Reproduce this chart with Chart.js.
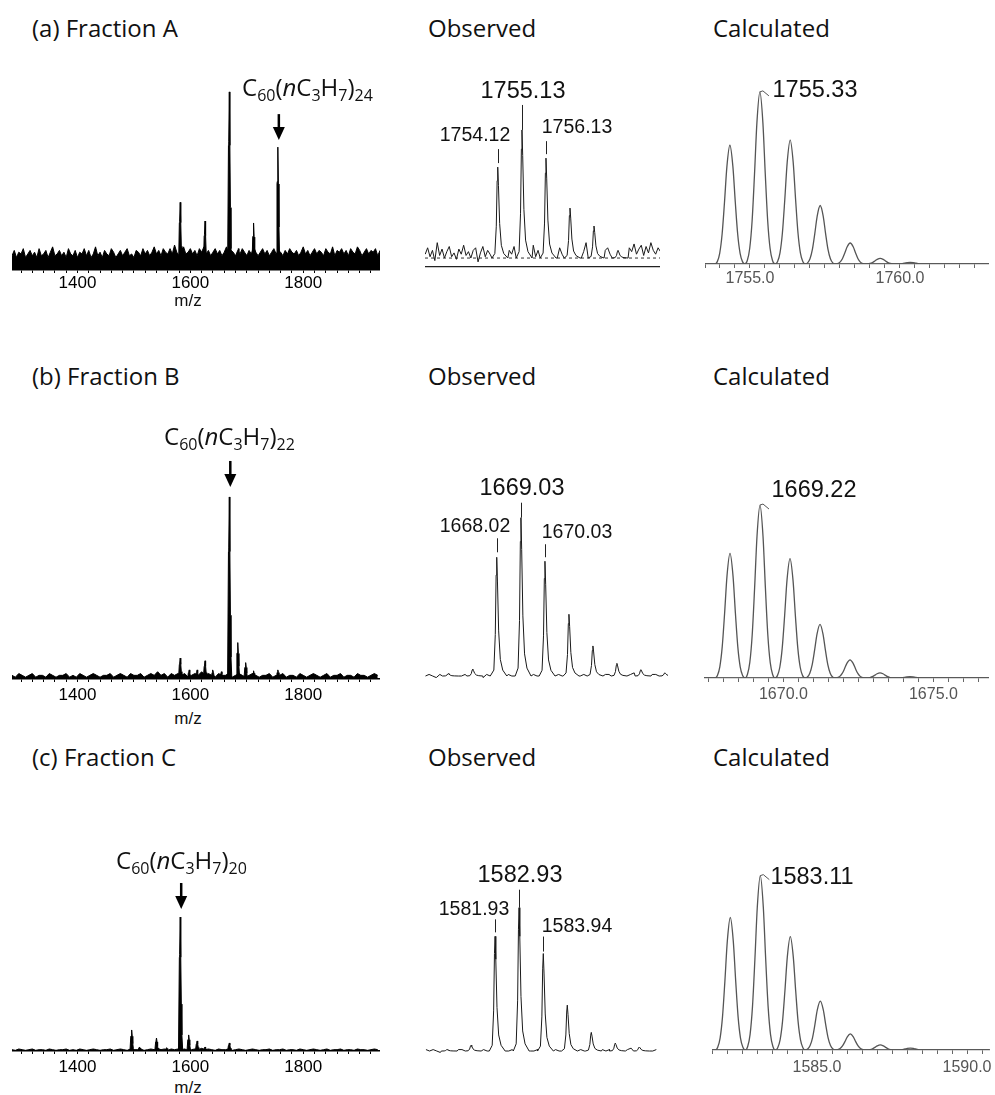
<!DOCTYPE html>
<html lang="en">
<head>
<meta charset="UTF-8">
<script src="https://cdn.jsdelivr.net/npm/chart.js"></script>
<title>C60 propyl adducts - MS</title>
<style>
  body { margin: 0; background: #fff; }
  #page { position: relative; width: 995px; height: 1095px; overflow: hidden; }
  canvas { position: absolute; }
  .t { position: absolute; line-height: 1; white-space: nowrap; color: #111; }
  .head { font-family: "Open Sans", sans-serif; font-size: 24px; transform: translateY(-50%); }
  .num { font-family: "Liberation Sans", Arial, sans-serif; transform: translate(-50%, -50%); }
  .small { font-size: 19.5px; }
  .big { font-size: 23.5px; }
  .mz { font-family: "Liberation Sans", Arial, sans-serif; font-size: 17px; transform: translate(-50%, -50%); }
  .formula { font-family: "Open Sans", sans-serif; font-size: 24px; transform: translateY(-50%); }
  .formula sub { font-size: 16px; position: relative; top: 5px; vertical-align: baseline; line-height: 0; }
</style>
</head>
<body>
<div id="page">
  <div class="t head" style="left:32px; top:28px;">(a) Fraction A</div>
  <div class="t head" style="left:428px; top:28px;">Observed</div>
  <div class="t head" style="left:713px; top:28px;">Calculated</div>
  <div class="t head" style="left:32px; top:376px;">(b) Fraction B</div>
  <div class="t head" style="left:428px; top:376px;">Observed</div>
  <div class="t head" style="left:713px; top:376px;">Calculated</div>
  <div class="t head" style="left:32px; top:757px;">(c) Fraction C</div>
  <div class="t head" style="left:428px; top:757px;">Observed</div>
  <div class="t head" style="left:713px; top:757px;">Calculated</div>

  <canvas id="ovA" width="368" height="211" style="left:12px; top:83px;"></canvas>
  <canvas id="obsA" width="235" height="169" style="left:425px; top:100px;"></canvas>
  <canvas id="calcA" width="284" height="205" style="left:705px; top:85px;"></canvas>
  <canvas id="ovB" width="368" height="253" style="left:12px; top:450px;"></canvas>
  <canvas id="obsB" width="243" height="190" style="left:425px; top:490px;"></canvas>
  <canvas id="calcB" width="285" height="209" style="left:704px; top:495px;"></canvas>
  <canvas id="ovC" width="368" height="205" style="left:12px; top:870px;"></canvas>
  <canvas id="obsC" width="233" height="180" style="left:425px; top:875px;"></canvas>
  <canvas id="calcC" width="283" height="211" style="left:712px; top:865px;"></canvas>

  <div class="t formula" style="left:242px; top:87px;">C<sub>60</sub>(<i>n</i>C<sub>3</sub>H<sub>7</sub>)<sub>24</sub></div>
  <div class="t formula" style="left:164px; top:436px;">C<sub>60</sub>(<i>n</i>C<sub>3</sub>H<sub>7</sub>)<sub>22</sub></div>
  <div class="t formula" style="left:116px; top:860px;">C<sub>60</sub>(<i>n</i>C<sub>3</sub>H<sub>7</sub>)<sub>20</sub></div>

  <div class="t mz" style="left:188px; top:300px;">m/z</div>
  <div class="t mz" style="left:188px; top:718px;">m/z</div>
  <div class="t mz" style="left:188px; top:1087px;">m/z</div>

  <div class="t num big" style="left:523px; top:91px;">1755.13</div>
  <div class="t num small" style="left:475px; top:135px;">1754.12</div>
  <div class="t num small" style="left:577px; top:127px;">1756.13</div>
  <div class="t num big" style="left:815px; top:90px;">1755.33</div>

  <div class="t num big" style="left:522px; top:488px;">1669.03</div>
  <div class="t num small" style="left:475px; top:526px;">1668.02</div>
  <div class="t num small" style="left:577px; top:532px;">1670.03</div>
  <div class="t num big" style="left:814px; top:490px;">1669.22</div>

  <div class="t num big" style="left:520px; top:875px;">1582.93</div>
  <div class="t num small" style="left:474px; top:909px;">1581.93</div>
  <div class="t num small" style="left:577px; top:926px;">1583.94</div>
  <div class="t num big" style="left:812px; top:877px;">1583.11</div>
</div>

<script>
// ---------- data ----------

// overview spectra: x range and principal peaks (relative intensity, main peak = 100)
const ovMin = 1284, ovMax = 1936, ovNoiseStart = 1284;
const ovPeaksA = [1582, 1598, 1626, 1669, 1685, 1698, 1712, 1755];
const ovHeightsA = [38, 9, 27.5, 100, 12, 9, 26.4, 69];
const ovPeaksB = [1582, 1598, 1612, 1626, 1640, 1655, 1669, 1684, 1698, 1712, 1755];
const ovHeightsB = [11.5, 5, 5, 10, 5, 4, 100, 20, 9, 4.5, 5];
const ovPeaksC = [1496, 1510, 1540, 1558, 1582, 1597, 1612, 1626, 1669];
const ovHeightsC = [15.7, 3, 9.7, 2.5, 100, 12, 7.5, 3, 6];

// noise band top of the overview traces
const noiseStepA1 = 4;
const noiseA1 = [8,11,7,10,9,12,7,9,11,8, 10,7,12,8,9,11,7,10,13,8, 9,11,8,10,7,12,9,8,11,7,
  10,9,12,8,11,7,9,13,8,10, 7,11,9,8,12,10,7,9,11,8, 10,12,8,9,7,11,10,8,12,9,
  11,8,10,13,9,11,8,12,10,9, 12,9,14,10,8,11,13,9,10,12, 9,11,8,12,10,13,9,11,8,10,
  12,9,11,8,10,13,9,11,10,8, 11,9,12,10,8,11,9,13,10,8, 10,12,9,11,8,10,12,9,11,10,
  8,11,9,12,10,9,11,8,10,13, 9,11,8,10,12,9,11,10,8,12, 10,9,13,8,11,10,12,9,11,8,
  12,10,9,13,11,8,10,12,9,11, 10,12,8,11];
const noiseStepBC = 6;
const noiseB1 = [2,1,3,2,1,2,3,1,2,2, 1,3,2,1,2,2,3,1,2,1, 3,2,1,2,3,2,1,2,2,3,
  1,2,3,2,1,3,2,2,3,1, 2,3,2,4,2,3,1,3,2,3, 2,3,1,2,3,2,4,2,3,2,
  1,3,2,2,3,1,2,3,2,1, 2,3,2,1,2,2,3,1,2,2, 3,1,2,2,1,3,2,1,2,3,
  2,1,2,3,1,2,2,3,1,2, 2,1,3,2,2,1,2,3,2];
const noiseC1 = [1,0.5,1.5,1,0.5,1,1.5,0.5,1,1, 0.5,1.5,1,0.5,1,1,1.5,0.5,1,0.5,
  1.5,1,0.5,1,1.5,1,0.5,1,1,1.5, 0.5,1,1.5,1,0.5,1.5,1,1,1.5,0.5,
  1,1.5,1,2,1,1.5,0.5,1.5,1,1.5, 1,1.5,0.5,1,1.5,1,2,1,1.5,1,
  0.5,1.5,1,1,1.5,0.5,1,1.5,1,0.5, 1,1.5,1,0.5,1,1,1.5,0.5,1,1,
  1.5,0.5,1,1,0.5,1.5,1,0.5,1,1.5, 1,0.5,1,1.5,0.5,1,1,1.5,0.5,1,
  1,0.5,1.5,1,1,0.5,1,1.5,1];

// cluster profile of one overview peak (m/z offset, fraction of height)
const ovShapeDx = [-3, -1.5, -1, 0, 1, 2, 3, 4.5];
const ovShapeFr = [0, 0.7, 0.72, 1, 0.7, 0.35, 0.12, 0];

// observed isotope patterns
const obsRangeA = [1751.09, 1760.88];
const obsPeaksA = [1754.12, 1755.13, 1756.13, 1757.13, 1758.13, 1759.13];
const obsHeightsA = [71, 100, 78, 39, 25, 6];
const noiseA2Start = 1751.1, noiseA2Step = 0.1;
const noiseA2 = [3,8,1,6,-2,12,2,7,0,5, 9,1,4,-1,7,3,10,2,5,0, 6,8,-3,4,9,1,6,3,11,0,
  5,2,8,4,-2,6,3,9,1,7, 4,0,8,2,5,10,1,6,3,7, -1,4,9,2,6,0,8,3,5,1,
  10,4,7,2,9,0,5,12,3,7, 1,9,4,11,2,6,8,3,12,5, 1,9,4,13,2,8,5,11,3,7,
  10,2,9,4,12,6,3,8,5];

const obsRangeB = [1665.03, 1675.16];
const obsPeaksB = [1666.0, 1667.02, 1668.02, 1669.03, 1670.03, 1671.03, 1672.03, 1673.03, 1674.03, 1675.03];
const obsHeightsB = [1.5, 4.4, 75, 100, 72.5, 39, 19, 8, 4, 2];
const noiseB2Start = 1665.05, noiseB2Step = 0.15;
const noiseB2 = [0,1,0,-1,1,0,1,0,1,-1, 0,1,0,1,1,0,-1,1,0,1, 0,1,0,1,0,1,0,-1,1,0,
  1,0,1,0,1,1,0,1,0,1, 0,1,1,0,1,0,1,0,1,0, 1,1,0,1,0,1,0,1,2,1, 0,1,0,1,1,0,1,0];

const obsRangeC = [1579.01, 1588.72];
const obsPeaksC = [1579.93, 1580.93, 1581.93, 1582.93, 1583.94, 1584.94, 1585.94, 1586.94, 1587.94];
const obsHeightsC = [1, 4, 80, 100, 68, 32, 13, 5.5, 2.8];
const noiseC2Start = 1579.05, noiseC2Step = 0.15;
const noiseC2 = [1,0,1,0,-1,1,0,1,0,1, 1,0,0,1,0,-1,1,0,1,0, 1,0,1,0,1,1,0,-1,1,0,
  0,1,0,1,1,0,1,0,1,0, 1,0,1,1,0,1,0,1,0,1, 0,1,1,0,1,0,1,2,1,0, 1,0,1,0,1];

// observed peak profile
const obsShapeDx = [-0.24, -0.12, -0.06, -0.025, 0, 0.03, 0.08, 0.15, 0.25, 0.42];
const obsShapeFr = [0, 0.05, 0.35, 0.85, 1, 0.8, 0.38, 0.14, 0.05, 0];

// calculated isotope patterns
const calcRangeA = [1753.5, 1762.967];
const calcPeaksA = [1754.33, 1755.33, 1756.34, 1757.34, 1758.34, 1759.34, 1760.34];
const calcHeightsA = [69, 100, 72, 34, 12.2, 3.3, 1.0];
const calcRangeB = [1667.353, 1676.853];
const calcPeaksB = [1668.22, 1669.22, 1670.22, 1671.22, 1672.22, 1673.22, 1674.22];
const calcHeightsB = [72, 100, 69, 31, 10.5, 3, 0.8];
const calcRangeC = [1581.5, 1590.733];
const calcPeaksC = [1582.11, 1583.11, 1584.11, 1585.11, 1586.11, 1587.11, 1588.11];
const calcHeightsC = [76, 100, 65, 28, 9.2, 2.9, 1.1];
const calcShapeDx = [-0.5, -0.42, -0.34, -0.26, -0.18, -0.1, 0, 0.1, 0.18, 0.26, 0.34, 0.42, 0.5];
const calcShapeFr = [0, 0.02, 0.09, 0.25, 0.52, 0.82, 1, 0.82, 0.52, 0.25, 0.09, 0.02, 0];

// ---------- helpers ----------
const FONT = '"Liberation Sans", Arial, sans-serif';

function peakPoints(centers, heights, dx, fr) {
  const pts = [];
  centers.forEach((c, i) => dx.forEach((d, j) => pts.push({ x: c + d, y: heights[i] * fr[j] })));
  return pts;
}

function noisePoints(start, step, values) {
  return values.map((v, i) => ({ x: start + i * step, y: v }));
}

// noise outside the peak windows, plus the peaks
function observedTrace(noise, centers, heights) {
  const lo = obsShapeDx[0], hi = obsShapeDx[obsShapeDx.length - 1];
  const keep = noise.filter(p => !centers.some(c => p.x > c + lo && p.x < c + hi));
  return keep.concat(peakPoints(centers, heights, obsShapeDx, obsShapeFr)).sort((a, b) => a.x - b.x);
}

function stepTicks(min, max, step) {
  const out = [];
  for (let k = Math.ceil(min / step - 1e-9); k * step <= max + 1e-9; k++) out.push({ value: +(k * step).toFixed(4) });
  return out;
}

const marksPlugin = {
  id: 'marks',
  afterDatasetsDraw(chart, args, opts) {
    const { ctx, scales: { x, y } } = chart;
    ctx.save();
    ctx.lineCap = 'butt';
    (opts.leaders || []).forEach(m => {
      const px = Math.round(x.getPixelForValue(m.x)) + 0.5, py = y.getPixelForValue(m.y);
      ctx.strokeStyle = '#222'; ctx.lineWidth = 1;
      ctx.beginPath(); ctx.moveTo(px, py - m.gap); ctx.lineTo(px, py - m.gap - m.len); ctx.stroke();
    });
    (opts.hooks || []).forEach(m => {
      const px = x.getPixelForValue(m.x), py = y.getPixelForValue(m.y);
      ctx.strokeStyle = '#555'; ctx.lineWidth = 1;
      ctx.beginPath(); ctx.moveTo(px, py); ctx.lineTo(px + 3, py - 1); ctx.lineTo(px + 9, py + 4); ctx.stroke();
    });
    if (opts.arrow) {
      const a = opts.arrow;
      const px = x.getPixelForValue(a.x) + 1, tip = y.getPixelForValue(a.y) - a.gap;
      ctx.strokeStyle = '#000'; ctx.fillStyle = '#000'; ctx.lineWidth = 2.5;
      ctx.beginPath(); ctx.moveTo(px, tip - 26); ctx.lineTo(px, tip - 10); ctx.stroke();
      ctx.beginPath(); ctx.moveTo(px - 6, tip - 13); ctx.lineTo(px + 6, tip - 13); ctx.lineTo(px, tip); ctx.closePath(); ctx.fill();
    }
    ctx.restore();
  }
};
Chart.register(marksPlugin);

function baseOptions(xScale, yMin, yMax, marks, padRight) {
  return {
    responsive: false,
    animation: false,
    events: [],
    layout: { padding: { left: 0, top: 0, bottom: 0, right: padRight || 0 } },
    plugins: { legend: { display: false }, tooltip: { enabled: false }, marks: marks || {} },
    scales: {
      x: xScale,
      y: { display: false, min: yMin, max: yMax }
    }
  };
}

function overviewAxis(labelPad) {
  return {
    type: 'linear', min: ovMin, max: ovMax,
    afterBuildTicks: s => { s.ticks = stepTicks(ovMin, ovMax, 20); },
    afterFit: s => { s.height = 24; s.paddingLeft = 0; s.paddingRight = 0; },
    ticks: {
      autoSkip: false, maxRotation: 0, padding: labelPad, color: '#000',
      font: { family: FONT, size: 17 },
      callback: v => (Math.round(v) % 200 === 0 ? String(Math.round(v)) : '')
    },
    grid: { drawOnChartArea: false, tickLength: 3, color: '#000' },
    border: { color: '#000', width: 1.5 }
  };
}

function calcAxis(range, labelPad) {
  return {
    type: 'linear', min: range[0], max: range[1],
    afterBuildTicks: s => { s.ticks = stepTicks(range[0], range[1], 0.5); },
    afterFit: s => { s.height = 26; s.paddingLeft = 0; s.paddingRight = 0; },
    ticks: {
      autoSkip: false, maxRotation: 0, padding: labelPad, color: '#555',
      font: { family: FONT, size: 16 },
      callback: v => (Math.abs(v / 5 - Math.round(v / 5)) < 1e-6 ? v.toFixed(1) : '')
    },
    grid: { drawOnChartArea: false, tickLength: 4, color: '#666' },
    border: { color: '#666', width: 1.3 }
  };
}

function overviewChart(id, peaks, heights, noise, noiseStep, yMax, labelPad, arrow) {
  const datasets = [
    {
      data: noisePoints(ovNoiseStart, noiseStep, noise),
      borderColor: '#000', borderWidth: 1, backgroundColor: '#000', fill: 'origin', pointRadius: 0
    },
    {
      data: [{ x: ovMin, y: 0 }].concat(peakPoints(peaks, heights, ovShapeDx, ovShapeFr), [{ x: ovMax, y: 0 }]),
      borderColor: '#000', borderWidth: 1, backgroundColor: '#000', fill: 'origin', pointRadius: 0
    }
  ];
  new Chart(document.getElementById(id), {
    type: 'line',
    data: { datasets },
    options: baseOptions(overviewAxis(labelPad), 0, yMax, { arrow })
  });
}

function observedChart(id, range, trace, yMin, yMax, showAxis, leaders) {
  const datasets = [{
    data: trace, borderColor: '#1a1a1a', borderWidth: 1, pointRadius: 0, fill: false
  }];
  if (showAxis) {
    datasets.push({
      data: [{ x: range[0], y: 0 }, { x: range[1], y: 0 }],
      borderColor: '#333', borderWidth: 1, borderDash: [3, 3], pointRadius: 0, fill: false
    });
  }
  const xScale = {
    type: 'linear', min: range[0], max: range[1], display: showAxis,
    afterFit: s => { s.height = 2; s.paddingLeft = 0; s.paddingRight = 0; },
    ticks: { display: false },
    grid: { display: false },
    border: { display: true, color: '#222', width: 1.2 }
  };
  new Chart(document.getElementById(id), {
    type: 'line',
    data: { datasets },
    options: baseOptions(xScale, yMin, yMax, { leaders })
  });
}

function calculatedChart(id, range, peaks, heights, yMax, labelPad, hookIndex, padRight) {
  const pts = [{ x: range[0], y: 0 }]
    .concat(peakPoints(peaks, heights, calcShapeDx, calcShapeFr), [{ x: range[1], y: 0 }])
    .sort((a, b) => a.x - b.x);
  new Chart(document.getElementById(id), {
    type: 'line',
    data: { datasets: [{
      data: pts, borderColor: '#555', borderWidth: 1.3, pointRadius: 0, fill: false,
      cubicInterpolationMode: 'monotone'
    }] },
    options: baseOptions(calcAxis(range, labelPad), 0, yMax,
      { hooks: [{ x: peaks[hookIndex], y: heights[hookIndex] }] }, padRight)
  });
}

// ---------- row (a) ----------
overviewChart('ovA', ovPeaksA, ovHeightsA, noiseA1, noiseStepA1, 105, 0, { x: 1755, y: 69, gap: 7 });
observedChart('obsA', obsRangeA,
  observedTrace(noisePoints(noiseA2Start, noiseA2Step, noiseA2), obsPeaksA, obsHeightsA),
  -7, 123.4, true,
  [{ x: 1754.12, y: 71, gap: 4, len: 14 }, { x: 1755.13, y: 100, gap: 0, len: 25 }, { x: 1756.13, y: 78, gap: 4, len: 13 }]);
calculatedChart('calcA', calcRangeA, calcPeaksA, calcHeightsA, 104, 1, 1, 0);

// ---------- row (b) ----------
overviewChart('ovB', ovPeaksB, ovHeightsB, noiseB1, noiseStepBC, 125.8, 3, { x: 1669, y: 100, gap: 10 });
observedChart('obsB', obsRangeB,
  observedTrace(noisePoints(noiseB2Start, noiseB2Step, noiseB2), obsPeaksB, obsHeightsB),
  -1.25, 117.5, false,
  [{ x: 1668.02, y: 75, gap: 5, len: 14 }, { x: 1669.03, y: 100, gap: 0, len: 15 }, { x: 1670.03, y: 72.5, gap: 4, len: 13 }]);
calculatedChart('calcB', calcRangeB, calcPeaksB, calcHeightsB, 105.8, 3, 1, 0);

// ---------- row (c) ----------
overviewChart('ovC', ovPeaksC, ovHeightsC, noiseC1, noiseStepBC, 135.1, 3, { x: 1582, y: 100, gap: 8 });
observedChart('obsC', obsRangeC,
  observedTrace(noisePoints(noiseC2Start, noiseC2Step, noiseC2), obsPeaksC, obsHeightsC),
  -1.38, 122.8, false,
  [{ x: 1581.93, y: 80, gap: 4, len: 13 }, { x: 1582.93, y: 100, gap: 0, len: 18 }, { x: 1583.94, y: 68, gap: 2, len: 15 }]);
calculatedChart('calcC', calcRangeC, calcPeaksC, calcHeightsC, 106.1, 4, 1, 6);
</script>
</body>
</html>
